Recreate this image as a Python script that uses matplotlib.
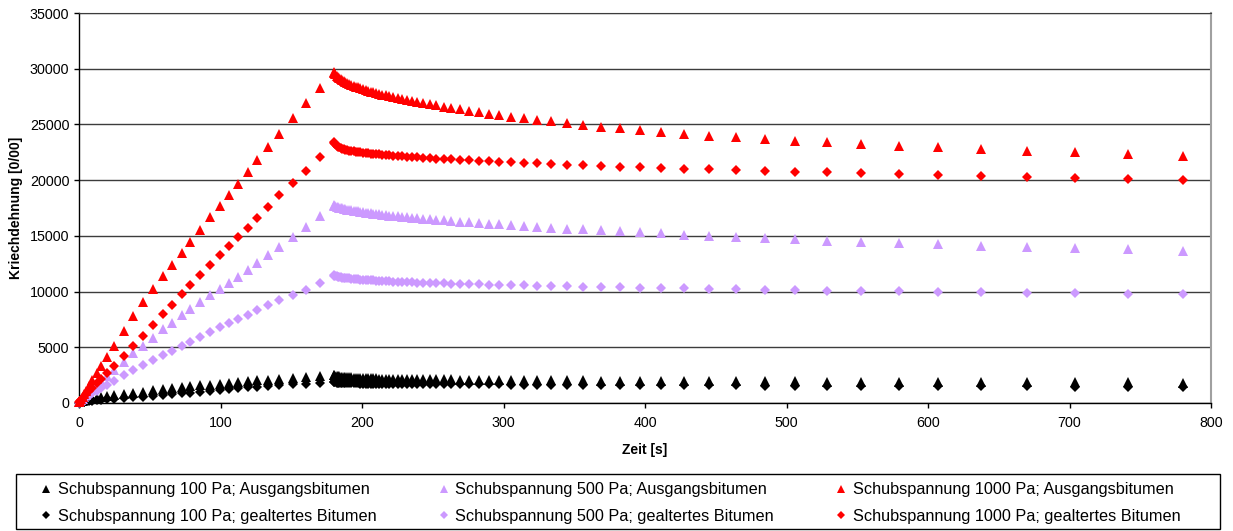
import matplotlib
matplotlib.use("Agg")
import matplotlib.pyplot as plt
from matplotlib.patches import Rectangle

plt.rcParams['font.family'] = ['Liberation Sans', 'DejaVu Sans']

# Belastungsphase (Kriechen) 0..180 s
t_last = [0.3, 0.8, 1.5, 2.5, 3.7, 5.2, 7, 9.5, 12.5, 15.5, 19.5, 24.5, 31.5, 38.5, 45.5,
          52.5, 59.6, 65.5, 72.6, 78.4, 85.5, 92.6, 99.6, 106, 112.6, 119.2, 126, 133.8,
          141.6, 151, 160.4, 170.3, 180]
# Entlastungsphase (Rueckverformung) 180..780 s
t_rueck = [180.5, 181, 182, 183, 184, 185, 186, 187, 188, 189.5, 191, 192.5, 194, 195.5,
           197, 198.7, 200.4, 202.9, 204.5, 206.3, 208.1, 210.1, 212.2, 214.4, 216.8, 219.4,
           222.2, 225.1, 228.3, 231.7, 235.3, 239.2, 243.3, 247.8, 252.5, 257.7, 263.1,
           269.3, 275.6, 282.5, 289.5, 296.6, 305.4, 314.3, 323.5, 333.6, 344.7, 356.5, 369,
           382.2, 396.3, 411.4, 427.4, 445, 464, 484.5, 505.7, 528.6, 552.9, 579.5, 607,
           637.5, 670, 704, 741, 780]

# 100 Pa, Ausgangsbitumen
k100_a_last = [60, 110, 160, 210, 260, 310, 360, 420, 490, 550, 620, 710, 820, 920, 1020,
               1130, 1230, 1310, 1410, 1490, 1580, 1660, 1740, 1810, 1880, 1950, 2020, 2090,
               2160, 2240, 2310, 2380, 2550]
k100_a_rueck = [2480, 2450, 2420, 2400, 2380, 2360, 2350, 2340, 2330, 2310, 2300, 2290, 2280,
                2270, 2260, 2250, 2240, 2230, 2220, 2215, 2210, 2200, 2195, 2190, 2180, 2175,
                2170, 2165, 2160, 2150, 2145, 2140, 2135, 2130, 2120, 2115, 2110, 2100, 2095,
                2090, 2080, 2075, 2065, 2060, 2050, 2040, 2030, 2020, 2010, 2000, 1990, 1980,
                1970, 1960, 1950, 1940, 1930, 1920, 1910, 1900, 1890, 1875, 1865, 1850, 1840,
                1830]
# 100 Pa, gealtertes Bitumen
k100_g_last = [20, 40, 60, 90, 110, 140, 170, 200, 240, 280, 320, 370, 440, 510, 580,
               650, 720, 790, 870, 940, 1020, 1100, 1180, 1250, 1320, 1400, 1470, 1550,
               1620, 1690, 1750, 1810, 1900]
k100_g_rueck = [1870, 1850, 1830, 1820, 1810, 1800, 1795, 1790, 1785, 1780, 1775, 1770, 1765,
                1760, 1755, 1750, 1745, 1740, 1738, 1735, 1732, 1730, 1727, 1724, 1721, 1718,
                1715, 1712, 1709, 1706, 1703, 1700, 1697, 1694, 1690, 1686, 1682, 1678, 1674,
                1670, 1666, 1662, 1657, 1652, 1647, 1641, 1635, 1629, 1622, 1615, 1608, 1600,
                1592, 1583, 1574, 1564, 1554, 1543, 1532, 1520, 1508, 1495, 1481, 1467, 1452,
                1436]
# 500 Pa, Ausgangsbitumen
k500_a_last = [60, 150, 260, 400, 560, 750, 970, 1270, 1620, 1960, 2400, 2950, 3700, 4450,
               5150, 5850, 6600, 7200, 7900, 8400, 9050, 9700, 10250, 10750, 11350, 11950,
               12550, 13250, 14000, 14900, 15800, 16750, 17750]
k500_a_rueck = [17700, 17660, 17610, 17570, 17530, 17490, 17460, 17430, 17400, 17360, 17320,
                17290, 17250, 17220, 17190, 17150, 17120, 17080, 17050, 17020, 16990, 16960,
                16920, 16890, 16850, 16820, 16780, 16740, 16700, 16660, 16620, 16580, 16530,
                16480, 16430, 16380, 16330, 16270, 16210, 16150, 16090, 16030, 15960, 15890,
                15820, 15740, 15660, 15580, 15490, 15400, 15310, 15220, 15120, 15020, 14910,
                14800, 14690, 14580, 14470, 14360, 14250, 14130, 14020, 13900, 13780, 13670]
# 500 Pa, gealtertes Bitumen
k500_g_last = [40, 100, 170, 270, 380, 510, 660, 860, 1090, 1320, 1620, 1980, 2470, 2950,
               3420, 3880, 4330, 4700, 5100, 5450, 5950, 6350, 6800, 7150, 7500, 7900, 8350,
               8800, 9200, 9680, 10180, 10750, 11450]
k500_g_rueck = [11420, 11390, 11360, 11330, 11300, 11280, 11260, 11240, 11220, 11200, 11180,
                11160, 11140, 11120, 11100, 11080, 11060, 11040, 11030, 11010, 11000, 10980,
                10970, 10950, 10940, 10920, 10900, 10890, 10870, 10850, 10830, 10810, 10790,
                10770, 10750, 10730, 10710, 10690, 10670, 10650, 10630, 10610, 10580, 10550,
                10520, 10490, 10460, 10430, 10400, 10370, 10340, 10310, 10280, 10250, 10210,
                10170, 10130, 10090, 10050, 10010, 9970, 9930, 9890, 9850, 9810, 9780]
# 1000 Pa, Ausgangsbitumen
k1000_a_last = [80, 200, 350, 560, 800, 1120, 1500, 2020, 2660, 3300, 4140, 5150, 6500, 7800,
                9050, 10250, 11400, 12350, 13500, 14450, 15550, 16650, 17700, 18650, 19650,
                20700, 21850, 22950, 24150, 25550, 26900, 28250, 29750]
k1000_a_rueck = [29600, 29500, 29380, 29270, 29170, 29080, 28990, 28910, 28840, 28740, 28650,
                 28560, 28480, 28400, 28330, 28250, 28180, 28080, 28020, 27950, 27880, 27810,
                 27740, 27670, 27600, 27520, 27440, 27360, 27280, 27190, 27100, 27010, 26910,
                 26810, 26700, 26590, 26470, 26350, 26230, 26100, 25980, 25860, 25710, 25570,
                 25430, 25280, 25120, 24960, 24800, 24640, 24480, 24320, 24160, 24000, 23840,
                 23680, 23530, 23380, 23230, 23080, 22940, 22790, 22640, 22500, 22350, 22200]
# 1000 Pa, gealtertes Bitumen
k1000_g_last = [60, 150, 260, 410, 580, 790, 1040, 1380, 1780, 2180, 2700, 3350, 4250, 5150,
                6050, 7000, 8000, 8800, 9750, 10550, 11450, 12350, 13250, 14050, 14900, 15750,
                16600, 17600, 18650, 19750, 20850, 22100, 23400]
k1000_g_rueck = [23300, 23220, 23100, 23010, 22940, 22880, 22830, 22790, 22750, 22700, 22660,
                 22620, 22590, 22560, 22530, 22500, 22470, 22430, 22410, 22380, 22360, 22330,
                 22310, 22280, 22260, 22230, 22200, 22170, 22140, 22110, 22080, 22050, 22010,
                 21980, 21940, 21900, 21860, 21820, 21780, 21740, 21700, 21650, 21600, 21550,
                 21500, 21450, 21390, 21330, 21270, 21210, 21150, 21090, 21030, 20970, 20900,
                 20830, 20760, 20690, 20620, 20540, 20460, 20370, 20290, 20200, 20110, 20020]

zeit = t_last + t_rueck
serien = [
    ("Schubspannung 100 Pa; Ausgangsbitumen", k100_a_last + k100_a_rueck, "^", "#000000"),
    ("Schubspannung 100 Pa; gealtertes Bitumen", k100_g_last + k100_g_rueck, "D", "#000000"),
    ("Schubspannung 500 Pa; Ausgangsbitumen", k500_a_last + k500_a_rueck, "^", "#cc99ff"),
    ("Schubspannung 500 Pa; gealtertes Bitumen", k500_g_last + k500_g_rueck, "D", "#cc99ff"),
    ("Schubspannung 1000 Pa; Ausgangsbitumen", k1000_a_last + k1000_a_rueck, "^", "#ff0000"),
    ("Schubspannung 1000 Pa; gealtertes Bitumen", k1000_g_last + k1000_g_rueck, "D", "#ff0000"),
]

fig = plt.figure(figsize=(12.33, 5.31), dpi=100)
ax = fig.add_axes([79 / 1233, 1 - 403 / 531, (1211 - 79) / 1233, (403 - 13) / 531])

handles = []
for name, werte, marker, farbe in serien:
    ms = 7.2 if marker == "^" else 5.6
    h, = ax.plot(zeit, werte, linestyle="none", marker=marker, ms=ms, color=farbe,
                 markeredgewidth=0, clip_on=False, label=name, zorder=3)
    handles.append(h)

ax.set_xlim(0, 800)
ax.set_ylim(0, 35000)
ax.set_xticks(range(0, 801, 100))
ax.set_yticks(range(0, 35001, 5000))
ax.grid(axis="y", color="#3c3c3c", linewidth=1.0)
ax.set_axisbelow(True)

for s in ["left", "bottom"]:
    ax.spines[s].set_color("black")
    ax.spines[s].set_linewidth(1.0)
ax.spines["right"].set_color("#a0a0a0")
ax.spines["right"].set_linewidth(1.5)
ax.spines["top"].set_color("#3c3c3c")

ax.tick_params(axis="both", direction="out", length=3.5, width=1, labelsize=10.3, colors="black")
ax.tick_params(axis="y", pad=3.5)
ax.tick_params(axis="x", pad=6)

ax.set_xlabel("Zeit [s]", fontsize=10, fontweight="bold", labelpad=9)
ax.set_ylabel("Kriechdehnung [0/00]", fontsize=10, fontweight="bold", labelpad=5)

# Legendenrahmen
fig.patches.append(Rectangle((16 / 1233, 2 / 531), (1220 - 16) / 1233, (529 - 474) / 531,
                             transform=fig.transFigure, fill=False, edgecolor="black",
                             linewidth=1.0))
fig.legend(handles=handles, loc="center", bbox_to_anchor=(610 / 1233, 1 - 503 / 531),
           ncol=3, frameon=False, fontsize=11.7, markerscale=0.75, handlelength=0.8,
           handletextpad=0.3, columnspacing=3.75, labelspacing=0.7)

fig.savefig("out.png", dpi=100)
